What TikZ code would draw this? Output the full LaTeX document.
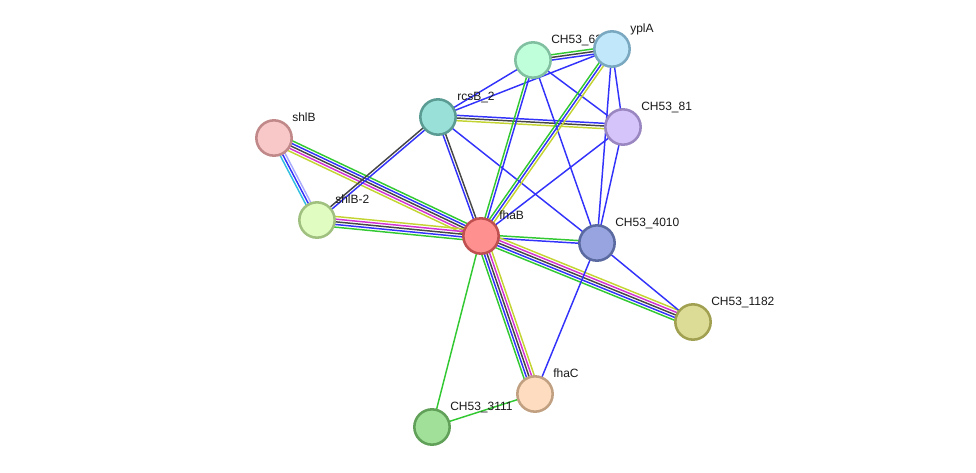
\documentclass[tikz,border=0pt]{standalone}
\usepackage{fontspec}
\setmainfont{Liberation Sans}
\usetikzlibrary{calc}
\pgfdeclarelayer{bg}
\pgfsetlayers{bg,main}
\definecolor{eg}{RGB}{50,200,50}
\definecolor{eb}{RGB}{50,50,250}
\definecolor{ek}{RGB}{70,70,70}
\definecolor{em}{RGB}{210,50,210}
\definecolor{ey}{RGB}{195,212,50}
\definecolor{ec}{RGB}{50,190,225}
\definecolor{el}{RGB}{170,170,255}
\newcommand\bund[4]{%
  \foreach \c [count=\i] in {#4}{%
    \pgfmathsetmacro\off{((#3+1)/2-\i)*2.0}%
    \draw[\c, line width=1.1pt] ($(#1.center)!\off pt!90:(#2.center)$) -- ($(#2.center)!\off pt!-90:(#1.center)$);
  }}
\begin{document}
\begin{tikzpicture}[x=0.75pt,y=-0.75pt,
  prot/.style={circle, minimum size=26.5pt, inner sep=0pt, line width=1.9pt},
  lbl/.style={anchor=base west, inner sep=0pt, text=black!90, font=\fontsize{9}{10}\selectfont}]
\useasboundingbox (0,0) rectangle (976,472);
% nodes
\node[prot, fill={rgb,255:red,191;green,255;blue,217}, draw={rgb,255:red,128;green,192;blue,160}] (c62) at (533,60) {};
\node[lbl] (lc62) at ($(c62)+(18,-17)$) {CH53\_62};
\node[prot, fill={rgb,255:red,192;green,232;blue,250}, draw={rgb,255:red,122;green,168;blue,192}] (ypl) at (612,49) {};
\node[lbl] (lypl) at ($(ypl)+(18,-17)$) {yplA};
\node[prot, fill={rgb,255:red,153;green,224;blue,216}, draw={rgb,255:red,90;green,156;blue,148}] (rcs) at (438,117) {};
\node[lbl] (lrcs) at ($(rcs)+(19,-17)$) {rcsB\_2};
\node[prot, fill={rgb,255:red,212;green,196;blue,250}, draw={rgb,255:red,154;green,134;blue,192}] (c81) at (623,127) {};
\node[lbl] (lc81) at ($(c81)+(18,-17)$) {CH53\_81};
\node[prot, fill={rgb,255:red,248;green,200;blue,200}, draw={rgb,255:red,192;green,136;blue,136}] (shl) at (274,138) {};
\node[lbl] (lshl) at ($(shl)+(18,-17)$) {shlB};
\node[prot, fill={rgb,255:red,224;green,252;blue,192}, draw={rgb,255:red,160;green,192;blue,128}] (shl2) at (317,220) {};
\node[lbl] (lshl2) at ($(shl2)+(18,-17)$) {shlB-2};
\node[prot, fill={rgb,255:red,255;green,144;blue,144}, draw={rgb,255:red,192;green,80;blue,80}] (fha) at (481,236) {};
\node[lbl] (lfha) at ($(fha)+(18,-17)$) {fhaB};
\node[prot, fill={rgb,255:red,152;green,164;blue,224}, draw={rgb,255:red,90;green,106;blue,160}] (c4010) at (597,243) {};
\node[lbl] (lc4010) at ($(c4010)+(18,-17)$) {CH53\_4010};
\node[prot, fill={rgb,255:red,220;green,220;blue,150}, draw={rgb,255:red,160;green,160;blue,80}] (c1182) at (693,322) {};
\node[lbl] (lc1182) at ($(c1182)+(18,-17)$) {CH53\_1182};
\node[prot, fill={rgb,255:red,253;green,220;blue,192}, draw={rgb,255:red,192;green,160;blue,128}] (fhc) at (535,394) {};
\node[lbl] (lfhc) at ($(fhc)+(18,-17)$) {fhaC};
\node[prot, fill={rgb,255:red,160;green,224;blue,152}, draw={rgb,255:red,96;green,160;blue,88}] (c3111) at (432,427) {};
\node[lbl] (lc3111) at ($(c3111)+(18,-17)$) {CH53\_3111};
% edges
\begin{pgfonlayer}{bg}
\bund{shl}{shl2}{3}{el,eb,ec}
\bund{shl}{fha}{5}{eg,eb,ek,em,ey}
\bund{shl2}{fha}{5}{ey,em,ek,eb,eg}
\bund{shl2}{rcs}{2}{ek,eb}
\bund{rcs}{fha}{2}{ek,eb}
\bund{rcs}{c81}{3}{eb,ek,ey}
\bund{rcs}{c62}{1}{eb}
\bund{rcs}{ypl}{1}{eb}
\bund{rcs}{c4010}{1}{eb}
\bund{c62}{ypl}{3}{eg,ek,eb}
\bund{c62}{fha}{2}{eb,eg}
\bund{c62}{c81}{1}{eb}
\bund{c62}{c4010}{1}{eb}
\bund{ypl}{fha}{3}{ey,eb,eg}
\bund{ypl}{c81}{1}{eb}
\bund{ypl}{c4010}{1}{eb}
\bund{c81}{fha}{1}{eb}
\bund{c81}{c4010}{1}{eb}
\bund{fha}{c4010}{2}{eg,eb}
\bund{fha}{c1182}{5}{ey,em,ek,eb,eg}
\bund{fha}{fhc}{5}{ey,em,ek,eb,eg}
\bund{fha}{c3111}{1}{eg}
\bund{c3111}{fhc}{1}{eg}
\bund{c4010}{fhc}{1}{eb}
\bund{c4010}{c1182}{1}{eb}
\end{pgfonlayer}
\end{tikzpicture}
\end{document}
